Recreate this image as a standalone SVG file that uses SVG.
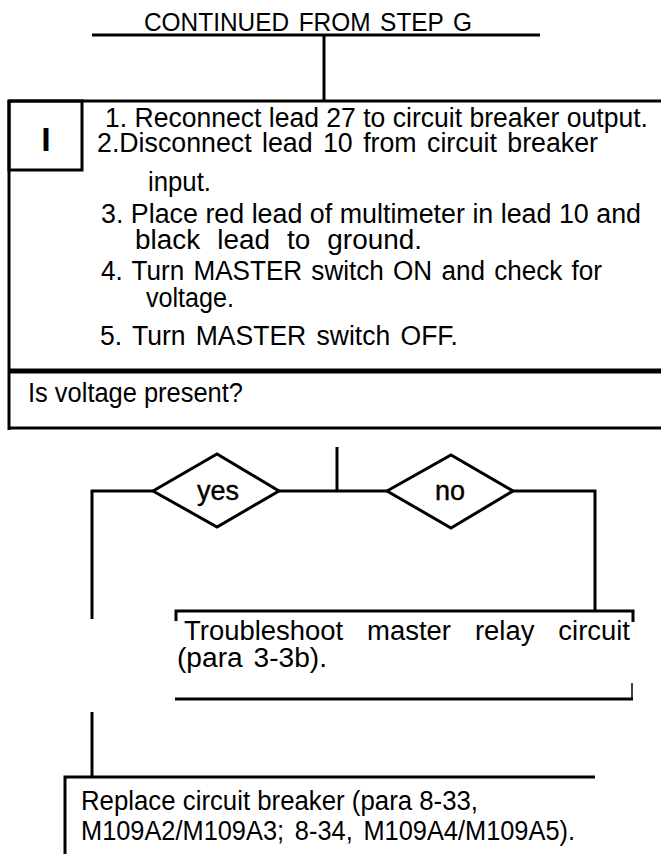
<svg xmlns="http://www.w3.org/2000/svg" width="661" height="854" viewBox="0 0 661 854">
<style>
text{font-family:"Liberation Sans",Arial,sans-serif;fill:#000}
.t{font-size:27px}
.ln{stroke:#000;stroke-width:3;fill:none}
.thin{stroke:#000;stroke-width:1.5;fill:none}
.dia{stroke:#000;stroke-width:3;fill:#fff;stroke-linejoin:miter}
.lbl{font-size:27px;stroke:#000;stroke-width:0.4}
</style>
<rect width="661" height="854" fill="#fff"/>
<g id="connectors">
<line class="ln" x1="92" y1="35" x2="540" y2="35"/>
<line class="ln" x1="324" y1="35" x2="324" y2="101"/>
<line class="ln" x1="337" y1="447" x2="337" y2="491"/>
<line class="ln" x1="279" y1="491" x2="387" y2="491"/>
<polyline class="ln" points="153,491 92,491 92,619"/>
<line class="ln" x1="92" y1="712" x2="92" y2="777"/>
<polyline class="ln" points="513,491 595,491 595,611"/>
</g>
<g id="title">
<text x="144" y="31" font-size="26" textLength="328" lengthAdjust="spacingAndGlyphs" word-spacing="3">CONTINUED FROM STEP G</text>
</g>
<g id="stepI">
<line class="ln" x1="9" y1="101" x2="661" y2="101"/>
<line class="ln" x1="9" y1="100" x2="9" y2="430"/>
<rect class="ln" x="9" y="101" width="73" height="69"/>
<text x="46" y="151" font-size="34" font-weight="bold" text-anchor="middle">I</text>
<text class="t" x="105" y="127" textLength="543" lengthAdjust="spacingAndGlyphs">1. Reconnect lead 27 to circuit breaker output.</text>
<text class="t" x="97" y="152" textLength="501" lengthAdjust="spacingAndGlyphs" word-spacing="3">2.Disconnect lead 10 from circuit breaker</text>
<text class="t" x="148" y="191" textLength="63" lengthAdjust="spacingAndGlyphs">input.</text>
<text class="t" x="101" y="223" textLength="540" lengthAdjust="spacingAndGlyphs">3. Place red lead of multimeter in lead 10 and</text>
<text class="t" x="135" y="249" textLength="287" lengthAdjust="spacingAndGlyphs" word-spacing="9">black lead to ground.</text>
<text class="t" x="101" y="280" textLength="501" lengthAdjust="spacingAndGlyphs" word-spacing="2">4. Turn MASTER switch ON and check for</text>
<text class="t" x="146" y="307" textLength="88" lengthAdjust="spacingAndGlyphs">voltage.</text>
<text class="t" x="100" y="345" textLength="358" lengthAdjust="spacingAndGlyphs" word-spacing="3">5. Turn MASTER switch OFF.</text>
<line x1="9" y1="371" x2="661" y2="371" stroke="#000" stroke-width="5"/>
</g>
<g id="question">
<text class="t" x="28" y="402" textLength="215" lengthAdjust="spacingAndGlyphs">Is voltage present?</text>
<line class="ln" x1="9" y1="428" x2="661" y2="428"/>
</g>
<g id="yes">
<polygon class="dia" points="153,491 217,454 279,491 217,527"/>
<text class="lbl" x="218" y="500" text-anchor="middle">yes</text>
</g>
<g id="no">
<polygon class="dia" points="387,491 451,455 513,491 451,528"/>
<text class="lbl" x="450" y="500" text-anchor="middle">no</text>
</g>
<g id="troubleshoot">
<polyline class="ln" points="176,621 176,611 633,611 633,622"/>
<line class="ln" x1="175" y1="699" x2="633" y2="699"/>
<line class="thin" x1="632" y1="683" x2="632" y2="699"/>
<text class="t" x="184" y="640" textLength="446" lengthAdjust="spacingAndGlyphs" word-spacing="16">Troubleshoot master relay circuit</text>
<text class="t" x="177" y="667" textLength="150" lengthAdjust="spacingAndGlyphs" word-spacing="3">(para 3-3b).</text>
</g>
<g id="replace">
<polyline class="ln" points="65,854 65,777 595,777"/>
<text class="t" x="81" y="810" textLength="397" lengthAdjust="spacingAndGlyphs">Replace circuit breaker (para 8-33,</text>
<text class="t" x="81" y="840" textLength="494" lengthAdjust="spacingAndGlyphs" word-spacing="4">M109A2/M109A3; 8-34, M109A4/M109A5).</text>
</g>
</svg>
